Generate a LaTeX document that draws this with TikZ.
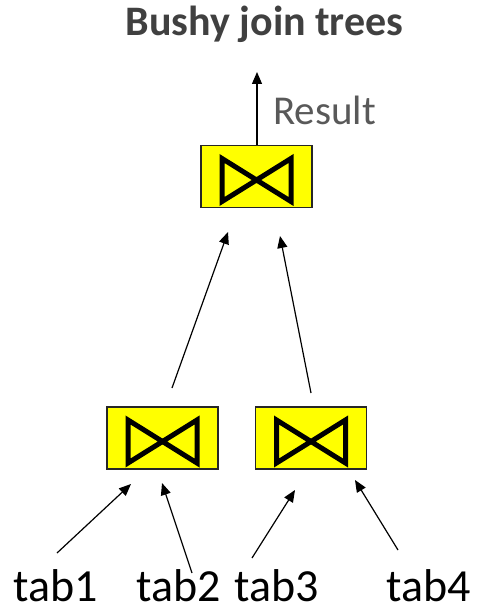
\documentclass[tikz,border=0pt]{standalone}
\usepackage{fontspec}
\setmainfont{Carlito}
\usetikzlibrary{arrows.meta}
\definecolor{titlegray}{HTML}{404040}
\definecolor{resgray}{HTML}{595959}
\definecolor{joinyellow}{HTML}{FFFF00}
\begin{document}
\begin{tikzpicture}[x=1pt,y=-1pt,
  joinbox/.style={draw=black!85,line width=1.8pt,fill=joinyellow,minimum width=111pt,minimum height=62pt,inner sep=0pt,
    path picture={\draw[draw=black,line width=5pt,line join=miter,shift={(path picture bounding box.center)}]
      (-34.5,-18) -- (34.5,25) -- (34.5,-18) -- (-34.5,25) -- cycle;}},
  conn/.style={line width=1.2pt,-{Triangle[length=12pt,width=10pt]}},
  tablabel/.style={font=\fontsize{46}{50}\selectfont,anchor=base,inner sep=0pt,text=black}]
\useasboundingbox (0,0) rectangle (476,609);
\node[font=\bfseries\fontsize{42}{48}\selectfont,text=titlegray,anchor=base,inner sep=0pt] (title) at (264.5,36) {Bushy join trees};
\node[joinbox] (top) at (256.5,176.5) {};
\node[joinbox] (bl) at (162.5,438) {};
\node[joinbox] (br) at (311,438) {};
\node[font=\fontsize{41}{46}\selectfont,text=resgray,anchor=base west,inner sep=0pt] (result) at (273,125) {Result};
\node[tablabel] (t1) at (56,601) {tab1};
\node[tablabel] (t2) at (178.5,601) {tab2};
\node[tablabel] (t3) at (277,601) {tab3};
\node[tablabel] (t4) at (428.5,601) {tab4};
\coordinate (restip) at (257,72);
\coordinate (m1s) at (172,388);
\coordinate (m1e) at (228,232);
\coordinate (m2s) at (311,393);
\coordinate (m2e) at (280,236);
\coordinate (b1s) at (57,553);
\coordinate (b1e) at (131,484);
\coordinate (b2s) at (192,573);
\coordinate (b2e) at (162,483);
\coordinate (b3s) at (252,558);
\coordinate (b3e) at (295,490);
\coordinate (b4s) at (398,550);
\coordinate (b4e) at (355,480);
\draw[conn] (top.north -| restip) -- (restip);
\draw[conn] (m1s) -- (m1e);
\draw[conn] (m2s) -- (m2e);
\draw[conn] (b1s) -- (b1e);
\draw[conn] (b2s) -- (b2e);
\draw[conn] (b3s) -- (b3e);
\draw[conn] (b4s) -- (b4e);
\end{tikzpicture}
\end{document}
